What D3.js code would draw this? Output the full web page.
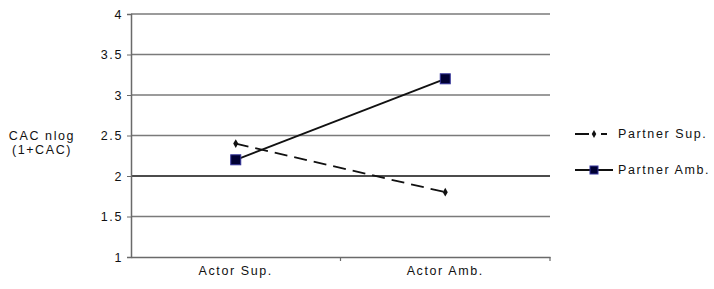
<!DOCTYPE html>
<html><head><meta charset="utf-8">
<script src="https://cdn.jsdelivr.net/npm/d3@7"></script>
<style>body{margin:0;background:#fff}svg{display:block;font-family:"Liberation Sans",Arial,sans-serif}</style>
</head><body><svg id="c" width="714" height="289"></svg>
<script>
const categories = ["Actor Sup.", "Actor Amb."];
const partnerSup = [2.4, 1.8];
const partnerAmb = [2.2, 3.2];
const yTicks = [1, 1.5, 2, 2.5, 3, 3.5, 4];
const yTickLabels = ["1", "1.5", "2", "2.5", "3", "3.5", "4"];
const seriesNames = ["Partner Sup.", "Partner Amb."];

const svg = d3.select("#c");
const L = 131, R = 550, T = 14, B = 257;
const FS = 12.5, LS = "1.6px";
const x = d3.scaleBand().domain(categories).range([L, R]);
const y = d3.scaleLinear().domain([1, 4]).range([B, T]);

// gridlines
svg.append("g").selectAll("line").data(yTicks.slice(1)).join("line")
  .attr("x1", L).attr("x2", R).attr("y1", d => y(d)).attr("y2", d => y(d))
  .attr("stroke", d => d === 2 ? "#111" : "#7a7a7a").attr("stroke-width", 1.3);

// y axis
const ya = svg.append("g").attr("transform", `translate(${L},0)`)
  .call(d3.axisLeft(y).tickValues(yTicks).tickFormat((d, i) => yTickLabels[i]).tickSize(4).tickPadding(4));
ya.select(".domain").attr("stroke", "#6a6a6a").attr("stroke-width", 1.5);
ya.selectAll(".tick line").attr("stroke", "#6a6a6a");
ya.selectAll("text").attr("font-size", FS).attr("fill", "#111").style("letter-spacing", LS)
  .style("font-family", "Liberation Sans, Arial, sans-serif");

// x axis
const xa = svg.append("g").attr("transform", `translate(0,${B})`)
  .call(d3.axisBottom(x).tickSize(0).tickPadding(9));
xa.select(".domain").attr("stroke", "#6a6a6a").attr("stroke-width", 1.5);
xa.selectAll("text").attr("font-size", FS).attr("fill", "#111").style("letter-spacing", LS)
  .style("font-family", "Liberation Sans, Arial, sans-serif");
// category boundary ticks
svg.append("g").selectAll("line").data(categories.slice(1).concat(["__end"])).join("line")
  .attr("x1", d => d === "__end" ? R : x(d)).attr("x2", d => d === "__end" ? R : x(d))
  .attr("y1", B).attr("y2", B + 4).attr("stroke", "#6a6a6a").attr("stroke-width", 1.2);

// y label
const yl = svg.append("text").attr("text-anchor", "middle").attr("font-size", FS).attr("fill", "#111").style("letter-spacing", LS);
yl.append("tspan").attr("x", 42).attr("y", 140).text("CAC nlog");
yl.append("tspan").attr("x", 42).attr("y", 154).text("(1+CAC)");

const cx = c => x(c) + x.bandwidth() / 2;
const line = d3.line().x((d, i) => cx(categories[i])).y(d => y(d));

// Partner Sup. dashed
svg.append("path").attr("d", line(partnerSup)).attr("fill", "none").attr("stroke", "#111")
  .attr("stroke-width", 1.8).attr("stroke-dasharray", "13,7");
svg.append("g").selectAll("path").data(partnerSup).join("path")
  .attr("transform", (d, i) => `translate(${cx(categories[i])},${y(d)})`)
  .attr("d", d3.symbol(d3.symbolDiamond, 22)()).attr("fill", "#111");

// Partner Amb. solid
svg.append("path").attr("d", line(partnerAmb)).attr("fill", "none").attr("stroke", "#111").attr("stroke-width", 1.8);
svg.append("g").selectAll("rect").data(partnerAmb).join("rect")
  .attr("x", (d, i) => cx(categories[i]) - 5).attr("y", d => y(d) - 5)
  .attr("width", 10).attr("height", 10).attr("fill", "#000033").attr("stroke", "#33339a").attr("stroke-width", 1);

// legend
const lg = svg.append("g");
const rows = [134, 170];
seriesNames.forEach((name, i) => {
  const ry = rows[i];
  const ln = lg.append("line").attr("x1", 575).attr("x2", 613).attr("y1", ry).attr("y2", ry)
    .attr("stroke", "#111").attr("stroke-width", 1.8);
  if (i === 0) {
    ln.attr("stroke-dasharray", "14,12,6,20");
    lg.append("path").attr("transform", `translate(594,${ry})`).attr("d", d3.symbol(d3.symbolDiamond, 18)()).attr("fill", "#111");
  } else {
    lg.append("rect").attr("x", 590).attr("y", ry - 4).attr("width", 8).attr("height", 8)
      .attr("fill", "#000033").attr("stroke", "#33339a");
  }
  lg.append("text").attr("x", 618).attr("y", ry + 4).attr("font-size", FS).style("letter-spacing", LS)
    .attr("fill", "#111").text(name);
});
</script></body></html>
